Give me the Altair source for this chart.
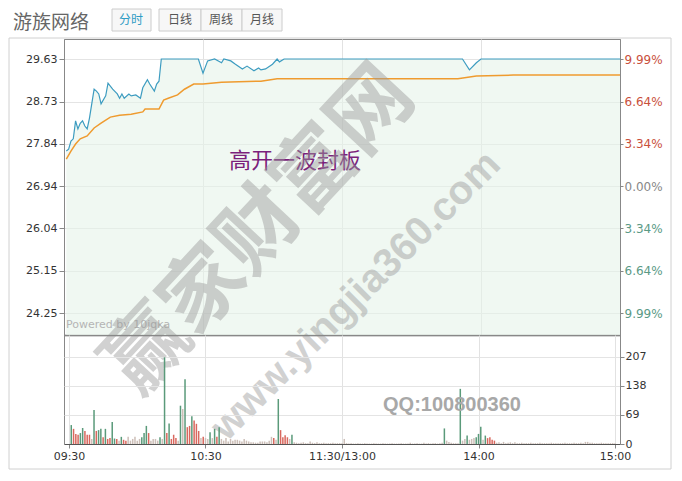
import altair as alt
import pandas as pd

# ---------------- data ----------------
prev_close = 26.94
price_min = [1,2,3,4,5,6,7,8,9,10,11,13,14,15,16,18,19,21,23,24,25,26,28,29,31,33,34,36,37,39,
             40,41,42,58,60,62,65,68,69,72,74,77,79,82,84,85,87,90,92,93,95,172,175,178,180,240]
price_val = [27.68,27.72,27.89,27.94,28.32,28.15,28.27,28.32,28.21,28.15,28.38,28.99,28.95,28.89,28.68,
             28.85,29.12,28.99,28.89,28.80,28.89,28.80,28.89,28.85,28.87,28.80,29.02,29.19,29.10,28.95,
             29.10,29.16,29.63,29.63,29.33,29.59,29.63,29.55,29.63,29.59,29.52,29.42,29.48,29.38,29.44,
             29.40,29.42,29.52,29.63,29.57,29.63,29.63,29.40,29.55,29.63,29.63]
avg_min = [1,3,5,7,10,13,16,20,24,29,34,35,41,43,45,49,52,56,60,68,85,92,170,178,194,240]
avg_val = [27.51,27.68,27.83,27.94,28.00,28.17,28.27,28.40,28.44,28.46,28.51,28.57,28.57,28.76,28.80,
           28.87,28.99,29.10,29.10,29.14,29.16,29.21,29.21,29.27,29.29,29.29]

vol_val = [
    45,36,24,22,26,38,31,22,22,12,81,31,33,36,16,36,12,14,52,13,
    12,8,17,10,8,17,8,12,17,8,12,16,26,43,26,8,12,12,8,16,
    12,206,26,49,12,22,14,8,91,83,154,40,43,66,56,48,31,14,17,14,
    12,28,14,36,17,40,12,8,14,6,12,8,10,10,8,6,12,8,6,4,
    4,3,3,6,6,6,4,8,17,14,10,107,33,16,21,16,12,22,4,3,
    2,3,4,2,2,6,3,2,4,2,2,3,2,2,2,3,2,2,2,2,
    12,2,1,2,1,1,2,1,1,2,1,1,1,2,1,1,1,2,1,1,
    1,2,1,1,1,2,1,1,1,3,1,1,2,1,1,3,1,2,1,2,
    2,1,2,3,37,8,5,3,2,2,2,131,8,12,20,10,12,14,16,24,
    41,10,20,14,16,10,8,3,4,2,5,2,3,4,2,4,2,2,3,2,
    2,2,3,2,2,2,3,2,2,2,2,3,2,2,2,2,2,3,2,2,
    2,3,2,2,3,2,5,5,3,3,2,2,2,3,2,2,2,2,2,2,
]
vol_dir = list(
    "grrrggrrrngrggrgrrgg"
    "rngrrnnnnnngggrnnnng"
    "ngrgrrrngngrrgrrrnrn"
    "ngngrgnnnnnnnnnnnnnn"
    "nnnnnnnnnrngrrrrngnn"
    "nnnnnnnnnnnnnnnnnnnn"
    "nnnnnnnnnnnnnnnnnnnn"
    "nnnnnnnnnnnnnnnnnnnn"
    "nnnngnnnnnngnngnnngg"
    "gngrrrrnnnnnnnnnnnnn"
    "nnnnnnnnnnnnnnnnnnnn"
    "nnnnnnnnnnnnnnnnnnnn"
)
vol_min = list(range(1, 241))

price_domain = [23.784, 30.054]
price_ticks = [29.63, 28.73, 27.84, 26.94, 26.04, 25.15, 24.25]
price_tick_labels = ["29.63", "28.73", "27.84", "26.94", "26.04", "25.15", "24.25"]
pct_labels = ["9.99%", "6.64%", "3.34%", "0.00%", "3.34%", "6.64%", "9.99%"]
time_ticks = [0, 60, 120, 180, 240]
time_labels = ["09:30", "10:30", "11:30/13:00", "14:00", "15:00"]
vol_domain = [0, 259]
vol_ticks = [0, 69, 138, 207]
dir_keys = ["r", "g", "n"]
dir_colors = ["#d9685e", "#5a9a7a", "#cdbfb8"]

title_text = "游族网络"
button_texts = ["分时", "日线", "周线", "月线"]
note_text = "高开一波封板"
powered_text = "Powered by 10jqka"
qq_text = "QQ:100800360"
wm_text1 = "赢家财富网"
wm_text2 = "www.yingjia360.com"

# ---------------- helpers ----------------
W, H1, H2 = 556, 296, 109
CJK = "Noto Sans CJK SC"


def ternary(field, keys, vals, quote_keys=True):
    expr = "''"
    for k, v in reversed(list(zip(keys, vals))):
        kk = f"'{k}'" if quote_keys else str(k)
        expr = f"({field} == {kk} ? '{v}' : {expr})"
    return expr


dummy = pd.DataFrame({"k": [0]})


def txt(s, x, y, size, color, font=CJK, weight="normal", align="left", angle=None,
        opacity=1.0, baseline="middle"):
    kw = dict(align=align, baseline=baseline, fontSize=size, color=color, font=font,
              fontWeight=weight, opacity=opacity)
    if angle is not None:
        kw["angle"] = angle
    return alt.Chart(pd.DataFrame({"t": [s]})).mark_text(**kw).encode(
        text="t:N", x=alt.value(x), y=alt.value(y))


def box(x0, x1, y0, y1, fill, stroke, fill_opacity=1.0):
    return alt.Chart(dummy).mark_rect(fill=fill, stroke=stroke, strokeWidth=1,
                                      fillOpacity=fill_opacity).encode(
        x=alt.value(x0), x2=alt.value(x1), y=alt.value(y0), y2=alt.value(y1))


x_scale = alt.Scale(domain=[0, 240], nice=False, zero=False)
price_scale = alt.Scale(domain=price_domain, nice=False, zero=False)

x_top = alt.X("m:Q", scale=x_scale,
              axis=alt.Axis(values=[60, 120, 180], grid=True, labels=False, ticks=False,
                            domain=True, domainColor="#555", domainWidth=1.5, title=None,
                            gridColor="#e2e2e2"))

price_df = pd.DataFrame({"m": price_min, "p": price_val})
avg_df = pd.DataFrame({"m": avg_min, "p": avg_val})

area = alt.Chart(price_df).mark_area(color="#e6f3e9", opacity=0.6, clip=True).encode(
    x=x_top,
    y=alt.Y("p:Q", scale=price_scale,
            axis=alt.Axis(orient="left", values=price_ticks, format=".2f", title=None,
                          tickSize=5, labelPadding=2, grid=True, gridColor="#e4e4e4",
                          minExtent=55, maxExtent=55)),
    y2=alt.datum(price_domain[0]),
)

blue = alt.Chart(price_df).mark_line(color="#3d9cc0", strokeWidth=1.2).encode(
    x=x_top,
    y=alt.Y("p:Q", scale=price_scale,
            axis=alt.Axis(orient="right", values=price_ticks, format=".2f", title=None,
                          tickSize=3, labelPadding=1, grid=False, labelFontSize=12,
                          labelExpr=ternary("datum.label", price_tick_labels, pct_labels),
                          labelColor={"condition": [
                              {"test": f"datum.value > {prev_close + 0.01}", "value": "#c9503c"},
                              {"test": f"datum.value < {prev_close - 0.01}", "value": "#5b9a86"}],
                              "value": "#888888"})))

orange = alt.Chart(avg_df).mark_line(color="#ef9b2f", strokeWidth=1.5).encode(
    x=x_top,
    y=alt.Y("p:Q", scale=price_scale, axis=None))

frame = box(-55, 607, -1, 430, "#ffffff", "#d0d0d0", fill_opacity=0)

header_layers = [
    txt(title_text, -51, -16, 19, "#666666"),
    box(48, 87, -30, -8, "#f7f7f7", "#cccccc"),
    box(95, 137, -30, -8, "#f7f7f7", "#cccccc"),
    box(137, 178, -30, -8, "#f7f7f7", "#cccccc"),
    box(178, 218, -30, -8, "#f7f7f7", "#cccccc"),
    txt(button_texts[0], 67, -19, 12, "#2f9cc4", align="center"),
    txt(button_texts[1], 116, -19, 12, "#555555", align="center"),
    txt(button_texts[2], 157, -19, 12, "#555555", align="center"),
    txt(button_texts[3], 198, -19, 12, "#555555", align="center"),
]

wm1 = txt(wm_text1, 196, 192, 82, "#9a9a9a", weight="bold", align="center",
          angle=313, opacity=0.45)
wm2 = txt(wm_text2, 292, 257, 40, "#9a9a9a", font="Liberation Sans", weight="bold",
          align="center", angle=315, opacity=0.45)
note = txt(note_text, 231, 122, 22, "#7b1f7b", align="center")
powered = txt(powered_text, 2, 286, 11, "#b5b5b5", font="DejaVu Sans")

price_panel = alt.layer(
    frame, area, blue, orange, powered, note, *header_layers, wm1, wm2
).resolve_axis(y="independent").properties(width=W, height=H1)

vol_df = pd.DataFrame({"m": vol_min, "v": vol_val, "d": vol_dir})
bars = alt.Chart(vol_df).mark_bar(size=1.5).encode(
    x=alt.X("m:Q", scale=x_scale,
            axis=alt.Axis(values=time_ticks, title=None, grid=True, gridColor="#e2e2e2",
                          tickSize=4, labelPadding=2, labelFlush=True, domainColor="#555",
                          labelExpr=ternary("datum.value", time_ticks, time_labels,
                                            quote_keys=False))),
    y=alt.Y("v:Q", scale=alt.Scale(domain=vol_domain, nice=False),
            axis=alt.Axis(orient="right", values=vol_ticks, title=None, grid=True,
                          gridColor="#e4e4e4", tickSize=4, labelPadding=1)),
    color=alt.Color("d:N", scale=alt.Scale(domain=dir_keys, range=dir_colors), legend=None),
)
qq = txt(qq_text, 388, 70, 20, "#a8a8a8", font="Liberation Sans", weight="bold",
         align="center")
vol_panel = alt.layer(bars, qq).properties(width=W, height=H2)

chart = alt.vconcat(price_panel, vol_panel, spacing=0, bounds="flush", padding=0).configure(
    background="white"
).configure_view(stroke="#888888").configure_axis(
    labelFont="DejaVu Sans", labelFontSize=11, labelColor="#333333",
    tickColor="#888888", domainColor="#888888"
)

chart.save("out.html", embed_options={"renderer": "svg", "actions": False})
